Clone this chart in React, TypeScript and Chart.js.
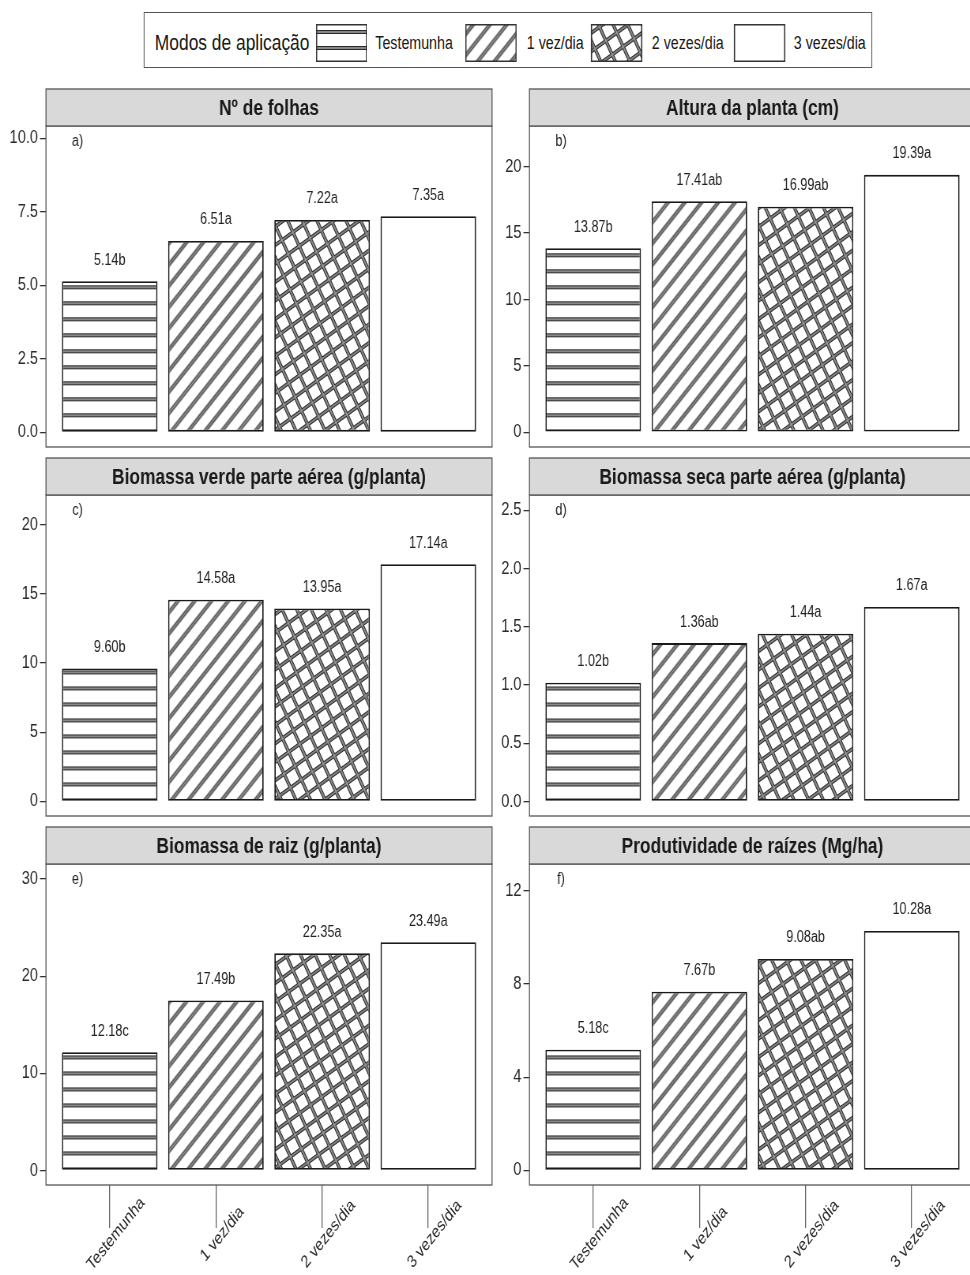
import React, { useEffect, useRef } from "react";
import { Chart, registerables } from "chart.js";

Chart.register(...registerables);

const FONT = "'Liberation Sans', Arial, Helvetica, sans-serif";
Chart.defaults.font.family = FONT;

// ---------------- data ----------------
const categories = ["Testemunha", "1 vez/dia", "2 vezes/dia", "3 vezes/dia"];
const fillKinds = ["hlines", "stripes", "crosshatch", "blank"];
const legendTitle = "Modos de aplicação";

const titleA = "Nº de folhas";
const valuesA = [5.14, 6.51, 7.22, 7.35];
const lettersA = ["b", "a", "a", "a"];
const ticksA = [0, 2.5, 5, 7.5, 10];
const rangeA = [-0.5, 10.42];

const titleB = "Altura da planta (cm)";
const valuesB = [13.87, 17.41, 16.99, 19.39];
const lettersB = ["b", "ab", "ab", "a"];
const ticksB = [0, 5, 10, 15, 20];
const rangeB = [-1.11, 23.07];

const titleC = "Biomassa verde parte aérea (g/planta)";
const valuesC = [9.6, 14.58, 13.95, 17.14];
const lettersC = ["b", "a", "a", "a"];
const ticksC = [0, 5, 10, 15, 20];
const rangeC = [-1.055, 22.15];

const titleD = "Biomassa seca parte aérea (g/planta)";
const valuesD = [1.02, 1.36, 1.44, 1.67];
const lettersD = ["b", "ab", "a", "a"];
const ticksD = [0, 0.5, 1, 1.5, 2, 2.5];
const rangeD = [-0.125, 2.632];

const titleE = "Biomassa de raiz (g/planta)";
const valuesE = [12.18, 17.49, 22.35, 23.49];
const lettersE = ["c", "b", "a", "a"];
const ticksE = [0, 10, 20, 30];
const rangeE = [-1.5, 31.55];

const titleF = "Produtividade de raízes (Mg/ha)";
const valuesF = [5.18, 7.67, 9.08, 10.28];
const lettersF = ["c", "b", "ab", "a"];
const ticksF = [0, 4, 8, 12];
const rangeF = [-0.627, 13.16];

const panels = [
  { tag: "a)", title: titleA, values: valuesA, letters: lettersA, ticks: ticksA, range: rangeA, decimals: 1 },
  { tag: "b)", title: titleB, values: valuesB, letters: lettersB, ticks: ticksB, range: rangeB, decimals: 0 },
  { tag: "c)", title: titleC, values: valuesC, letters: lettersC, ticks: ticksC, range: rangeC, decimals: 0 },
  { tag: "d)", title: titleD, values: valuesD, letters: lettersD, ticks: ticksD, range: rangeD, decimals: 1 },
  { tag: "e)", title: titleE, values: valuesE, letters: lettersE, ticks: ticksE, range: rangeE, decimals: 0 },
  { tag: "f)", title: titleF, values: valuesF, letters: lettersF, ticks: ticksF, range: rangeF, decimals: 0 },
];

// ---------------- layout ----------------
const SQ = 0.79; // horizontal compression of the whole figure
const VW = 1228;
const COL_LEFT = [0, 612];
const ROW_TOP = [86, 455, 824];
const CANVAS_W = 630;
const Y_AXIS_W = 58.2;
const PAD_RIGHT = 7.2;
const STRIP_TOP = 3;
const PAD_TOP = 40;
const PLOT_H = 321;
const X_TICK_LEN = 43;
const X_SPACER = 14; // empty x-axis band in the upper rows

function makeFill(ctx: CanvasRenderingContext2D, kind: string): CanvasPattern | string {
  if (kind === "blank") return "#ffffff";
  const tile = document.createElement("canvas");
  let angle = 0;
  if (kind === "hlines") {
    tile.width = 8;
    tile.height = 16;
  } else if (kind === "stripes") {
    tile.width = 8;
    tile.height = 15;
    angle = -45;
  } else {
    tile.width = 16;
    tile.height = 16;
    angle = -30;
  }
  const t = tile.getContext("2d")!;
  t.fillStyle = "#ffffff";
  t.fillRect(0, 0, tile.width, tile.height);
  const draw = (lw: number, color: string) => {
    t.strokeStyle = color;
    t.lineWidth = lw;
    t.beginPath();
    const cy = tile.height / 2;
    t.moveTo(0, cy);
    t.lineTo(tile.width, cy);
    if (kind === "crosshatch") {
      const cx = tile.width / 2;
      t.moveTo(cx, 0);
      t.lineTo(cx, tile.height);
    }
    t.stroke();
  };
  draw(4, "#2b2b2b");
  draw(1.7, "#9a9a9a");
  const p = ctx.createPattern(tile, "repeat")!;
  if (angle) p.setTransform(new DOMMatrix().rotate(angle));
  return p;
}

type PanelSpec = (typeof panels)[number];

function Panel({ p, col, row }: { p: PanelSpec; col: number; row: number }) {
  const ref = useRef<HTMLCanvasElement>(null);
  const bottom = row === 2;
  const h = bottom ? 1275 - ROW_TOP[2] : PAD_TOP + PLOT_H + X_SPACER;
  const xBand = bottom ? X_TICK_LEN : X_SPACER;
  const padBottom = h - PAD_TOP - PLOT_H - xBand;

  useEffect(() => {
    const canvas = ref.current!;
    const ctx = canvas.getContext("2d")!;
    const fills = fillKinds.map((k) => makeFill(ctx, k));

    const deco = {
      id: "deco",
      beforeDatasetsDraw(chart: any) {
        const zeroY = chart.scales.y.getPixelForValue(0);
        fills.forEach((f, i) => {
          if (fillKinds[i] === "hlines" && typeof f !== "string") {
            f.setTransform(new DOMMatrix().translate(0, zeroY - 9));
          }
        });
      },
      afterDatasetsDraw(chart: any) {
        const c: CanvasRenderingContext2D = chart.ctx;
        const a = chart.chartArea;
        c.save();
        const meta = chart.getDatasetMeta(0);
        c.font = `16px ${FONT}`;
        c.fillStyle = "#222";
        c.textAlign = "center";
        c.textBaseline = "middle";
        meta.data.forEach((el: any, i: number) => {
          c.fillText(p.values[i].toFixed(2) + p.letters[i], el.x, el.y - 21);
        });
        c.fillText(p.tag, a.left + 40, a.top + 16);

        c.strokeStyle = "#555";
        c.lineWidth = 1.3;
        c.strokeRect(a.left, a.top, a.right - a.left, a.bottom - a.top);

        c.fillStyle = "#d9d9d9";
        c.fillRect(a.left, STRIP_TOP, a.right - a.left, a.top - STRIP_TOP);
        c.strokeRect(a.left, STRIP_TOP, a.right - a.left, a.top - STRIP_TOP);
        c.fillStyle = "#1a1a1a";
        c.font = `bold 22px ${FONT}`;
        c.fillText(p.title, (a.left + a.right) / 2, (STRIP_TOP + a.top) / 2 + 1);

        if (bottom) {
          const xs = chart.scales.x;
          c.font = `17.5px ${FONT}`;
          c.fillStyle = "#2a2a2a";
          categories.forEach((cat, i) => {
            c.save();
            c.translate(xs.getPixelForValue(i + 1) + 8, a.bottom + 49);
            c.rotate(-Math.PI / 4);
            c.fillText(cat, 0, 0);
            c.restore();
          });
        }
        c.restore();
      },
    };

    const chart = new Chart(canvas, {
      type: "bar",
      data: {
        datasets: [
          {
            data: p.values.map((v, i) => ({ x: i + 1, y: v })),
            backgroundColor: fills as any,
            borderColor: "#1a1a1a",
            borderWidth: 1.8,
            borderSkipped: false,
            categoryPercentage: 1,
            barPercentage: 0.9,
          },
        ],
      },
      options: {
        responsive: false,
        animation: false,
        devicePixelRatio: 1,
        events: [],
        layout: { padding: { left: 0, right: PAD_RIGHT, top: PAD_TOP, bottom: padBottom } },
        plugins: { legend: { display: false }, tooltip: { enabled: false } },
        scales: {
          x: {
            type: "linear",
            min: 0.4,
            max: 4.6,
            offset: false,
            display: true,
            afterBuildTicks: (ax: any) => {
              ax.ticks = categories.map((_, i) => ({ value: i + 1 }));
            },
            afterFit: (ax: any) => {
              ax.height = xBand;
            },
            grid: {
              display: bottom,
              offset: false,
              drawOnChartArea: false,
              drawTicks: true,
              tickLength: X_TICK_LEN,
              color: "#666",
              lineWidth: 1.3,
            },
            border: { display: false },
            ticks: { display: false },
          },
          y: {
            min: p.range[0],
            max: p.range[1],
            afterBuildTicks: (ax: any) => {
              ax.ticks = p.ticks.map((v) => ({ value: v }));
            },
            afterFit: (ax: any) => {
              ax.width = Y_AXIS_W;
            },
            grid: {
              drawOnChartArea: false,
              drawTicks: true,
              tickLength: 7.6,
              color: "#333",
              lineWidth: 1.3,
            },
            border: { display: false },
            ticks: {
              callback: (v: any) => Number(v).toFixed(p.decimals),
              font: { size: 18.5, family: FONT },
              color: "#2a2a2a",
              padding: 2.5,
            },
          },
        },
      } as any,
      plugins: [deco],
    });
    return () => chart.destroy();
  }, []);

  return (
    <canvas
      ref={ref}
      width={CANVAS_W}
      height={h}
      style={{ position: "absolute", left: COL_LEFT[col], top: ROW_TOP[row], width: CANVAS_W, height: h }}
    />
  );
}

function KeyBox({ kind, left }: { kind: string; left: number }) {
  const ref = useRef<HTMLCanvasElement>(null);
  useEffect(() => {
    const c = ref.current!;
    const ctx = c.getContext("2d")!;
    ctx.fillStyle = makeFill(ctx, kind) as any;
    ctx.fillRect(0, 0, c.width, c.height);
    ctx.strokeStyle = "#333";
    ctx.lineWidth = 1.5;
    ctx.strokeRect(0.75, 0.75, c.width - 1.5, c.height - 1.5);
  }, [kind]);
  return <canvas ref={ref} width={65} height={38} style={{ position: "absolute", left, top: 11, width: 65, height: 38 }} />;
}

const keyLefts = [217, 405.7, 565.2, 745.5];
const labelLefts = [291.8, 483.5, 641.8, 821.5];

function Legend() {
  const textStyle = (left: number, size: number): React.CSSProperties => ({
    position: "absolute",
    left,
    top: 30,
    transform: "translateY(-50%)",
    fontSize: size,
    lineHeight: 1,
    whiteSpace: "nowrap",
    color: "#1a1a1a",
    fontFamily: FONT,
  });
  return (
    <div
      style={{
        position: "absolute",
        left: 182.3,
        top: 12,
        width: 921.5,
        height: 56,
        border: "1.3px solid #555",
        boxSizing: "border-box",
        background: "#fff",
      }}
    >
      <div style={textStyle(12.7, 22)}>{legendTitle}</div>
      {fillKinds.map((k, i) => (
        <React.Fragment key={k}>
          <KeyBox kind={k} left={keyLefts[i]} />
          <div style={textStyle(labelLefts[i], 18)}>{categories[i]}</div>
        </React.Fragment>
      ))}
    </div>
  );
}

export default function App() {
  return (
    <div
      style={{
        position: "absolute",
        left: 0,
        top: 0,
        width: 970,
        height: 1275,
        overflow: "hidden",
        background: "#fff",
      }}
    >
      <div
        style={{
          position: "absolute",
          left: 0,
          top: 0,
          width: VW,
          height: 1275,
          transform: `scaleX(${SQ})`,
          transformOrigin: "0 0",
        }}
      >
        <Legend />
        {panels.map((p, i) => (
          <Panel key={i} p={p} col={i % 2} row={Math.floor(i / 2)} />
        ))}
      </div>
    </div>
  );
}
